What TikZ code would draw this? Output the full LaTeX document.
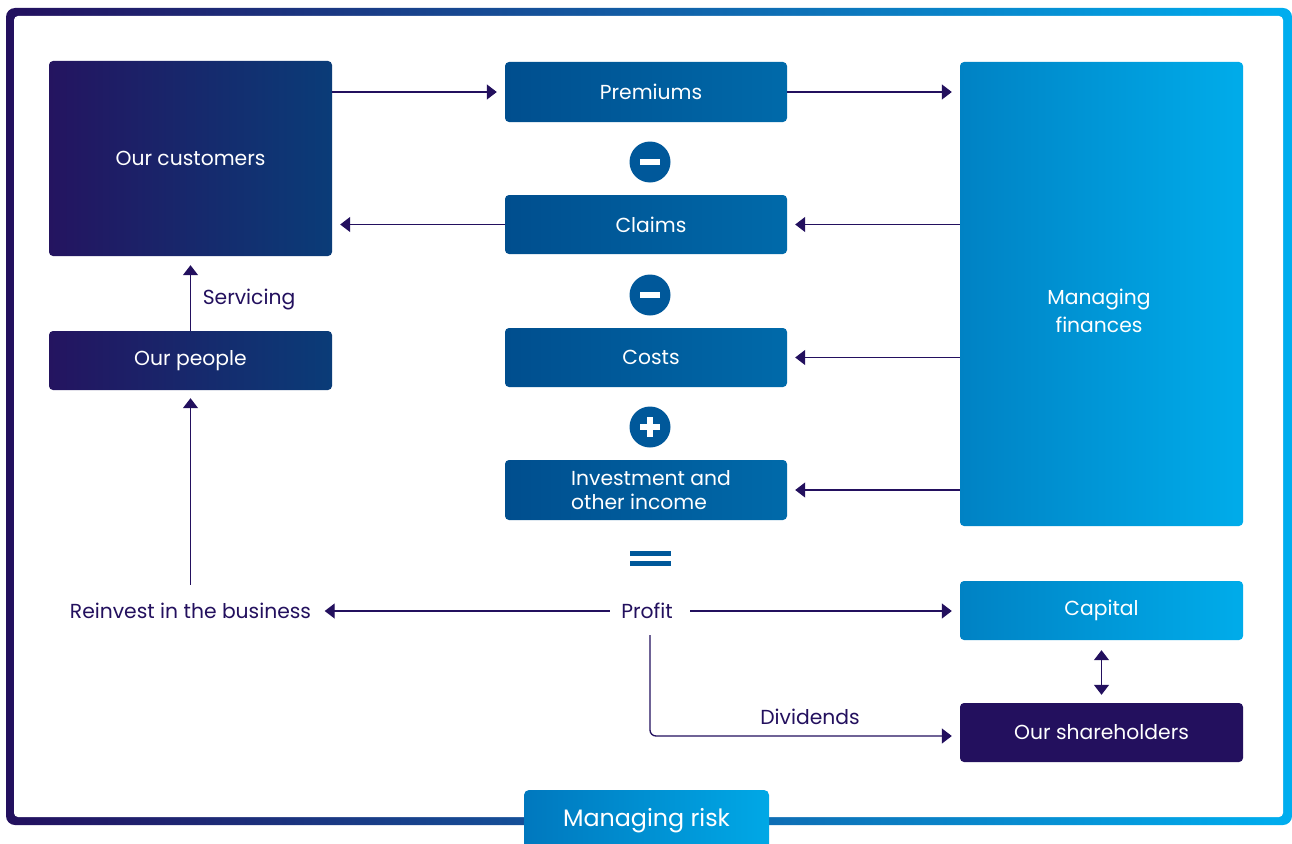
\documentclass[tikz,border=0pt]{standalone}
\usepackage{fontspec}
\setmainfont{Poppins}
\usetikzlibrary{arrows.meta,calc}
\definecolor{darkp}{RGB}{35,16,94}
\definecolor{navyL}{RGB}{36,20,96}
\definecolor{navyR}{RGB}{10,60,120}
\definecolor{midL}{RGB}{0,78,142}
\definecolor{midR}{RGB}{0,106,170}
\definecolor{ltL}{RGB}{0,130,196}
\definecolor{ltR}{RGB}{0,172,234}
\definecolor{circ}{RGB}{0,88,154}
\definecolor{bordL}{RGB}{35,16,94}
\definecolor{bordR}{RGB}{0,174,239}
\definecolor{tabL}{RGB}{0,120,190}
\definecolor{tabR}{RGB}{0,168,230}
\begin{document}
\begin{tikzpicture}[x=1pt,y=-1pt,
  lbl/.style={font=\fontsize{20.3}{24}\selectfont},
  box/.style={lbl, rounded corners=4pt, minimum width=283pt, text=white, align=center, inner sep=0pt},
  navybox/.style={box, left color=navyL, right color=navyR},
  midbox/.style={box, minimum width=282pt, minimum height=59pt, left color=midL, right color=midR},
  ltbox/.style={box, left color=ltL, right color=ltR},
  txt/.style={lbl, text=darkp, inner sep=0pt},
  sign/.style={circle, fill=circ, minimum size=41pt, inner sep=0pt},
  arr/.style={draw=darkp, line width=1.3pt, -{Triangle[length=10pt,width=15pt]}},
  darr/.style={draw=darkp, line width=1.3pt, {Triangle[length=10pt,width=15pt]}-{Triangle[length=10pt,width=15pt]}},
]
\useasboundingbox (0,0) rectangle (1292,843);
% frame
\shade[left color=bordL, right color=bordR, rounded corners=9pt] (6,8) rectangle (1292,825);
\fill[white, rounded corners=4pt] (14,16) rectangle (1283,817);
% managing risk tab
\begin{scope}
\clip (0,0) rectangle (1292,843);
\shade[left color=tabL, right color=tabR, rounded corners=5pt] (524,790) rectangle (769,860);
\end{scope}
\node[lbl, text=white, font=\fontsize{23.8}{26}\selectfont] (risk) at (646.5,821) {Managing risk};

% boxes
\node[navybox, minimum height=195pt] (cust) at (190.5,158.5) {Our customers};
\node[navybox, minimum height=59pt] (people) at (190.5,360.5) {Our people};
\node[midbox, minimum height=60pt] (prem) at (646,92) {\hspace*{10pt}Premiums};
\node[midbox] (claims) at (646,224.5) {\hspace*{10pt}Claims};
\node[midbox] (costs) at (646,357.5) {\hspace*{10pt}Costs};
\node[midbox, minimum height=60pt, align=left, font=\fontsize{20.3}{24}\selectfont] (inv) at (646,490) {\hspace*{10pt}Investment and\\\hspace*{10pt}other income};
\node[ltbox, minimum height=464pt] (mf) at (1101.5,294) {};
\node[lbl, text=white, align=center, inner sep=0pt, font=\fontsize{20.3}{28}\selectfont] (mftext) at (1099,311) {Managing\\finances};
\node[ltbox, minimum height=59pt] (cap) at (1101.5,610.5) {Capital};
\node[box, fill=darkp, minimum height=59pt] (sh) at (1101.5,732.5) {Our shareholders};
\coordinate (divend) at ([yshift=-3.5pt]sh.west);

% signs
\node[sign] (s1) at (650,162) {};
\node[sign] (s2) at (650,295) {};
\node[sign] (s3) at (650,427) {};
\fill[white] ($(s1)+(-10,-3)$) rectangle ($(s1)+(10,3)$);
\fill[white] ($(s2)+(-10,-3)$) rectangle ($(s2)+(10,3)$);
\fill[white] ($(s3)+(-10,-3)$) rectangle ($(s3)+(10,3)$);
\fill[white] ($(s3)+(-3,-10)$) rectangle ($(s3)+(3,10)$);
\fill[circ] (630,551) rectangle (671,556);
\fill[circ] (630,561) rectangle (671,566);

% free texts
\node[txt, minimum width=80pt, minimum height=48pt] (profit) at (650,611) {\hspace*{-6pt}Profit};
\node[txt, minimum width=268pt, minimum height=52pt] (reinv) at (190.5,611) {Reinvest in the business};
\node[txt] (serv) at (249,300) {Servicing};
\node[txt] (div) at (810,717) {Dividends};

% connectors
\draw[arr] (cust.east |- prem.west) -- ([xshift=-8pt]prem.west);
\draw[arr] (prem.east) -- ([xshift=-8pt]mf.west |- prem.east);
\draw[arr] (claims.west) -- ([xshift=8pt]cust.east |- claims.west);
\draw[arr] (mf.west |- claims.east) -- ([xshift=8pt]claims.east);
\draw[arr] (mf.west |- costs.east) -- ([xshift=8pt]costs.east);
\draw[arr] (mf.west |- inv.east) -- ([xshift=8pt]inv.east);
\draw[arr] (people.north) -- ([yshift=-9pt]cust.south);
\draw[arr] (reinv.north) -- ([yshift=-8pt]people.south);
\draw[arr] (profit.west) -- (reinv.east);
\draw[arr] (profit.east) -- ([xshift=-8pt]cap.west |- profit.east);
\draw[arr, rounded corners=6pt] (profit.south) -- (profit.south |- divend) -- ([xshift=-8pt]divend);
\draw[darr] ([yshift=-10pt]cap.south) -- ([yshift=8pt]sh.north);
\end{tikzpicture}
\end{document}
